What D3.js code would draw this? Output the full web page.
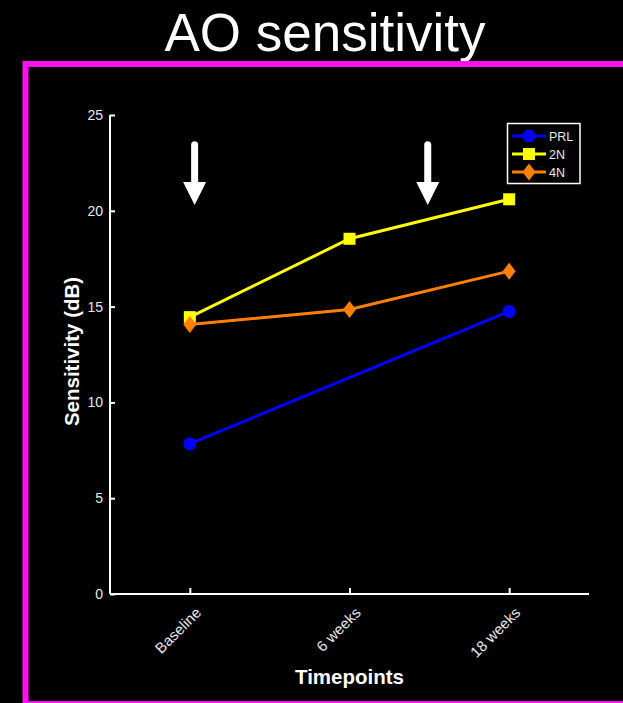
<!DOCTYPE html>
<html><head><meta charset="utf-8">
<script src="https://cdn.jsdelivr.net/npm/d3@7"></script>
<style>html,body{margin:0;padding:0;background:#000;}svg{display:block;}</style>
</head><body>
<svg id="chart" width="623" height="703"></svg>
<script>
// ---- data ----
const categories = ["Baseline", "6 weeks", "18 weeks"];
const prlValues = [7.84, null, 14.75];
const n2Values = [14.45, 18.54, 20.6];
const n4Values = [14.07, 14.85, 16.85];
const seriesNames = ["PRL", "2N", "4N"];
const seriesColors = ["#0000ff", "#ffff00", "#ff8000"];
const yTicks = [0, 5, 10, 15, 20, 25];
const arrowX = [1.03, 2.49];      // in category-index units
const arrowTop = 23.45, arrowHeadTop = 21.5, arrowTip = 20.3; // in dB units

const svg = d3.select("#chart");
svg.append("rect").attr("width", 623).attr("height", 703).attr("fill", "#000");
// title
svg.append("text").attr("x", 325).attr("y", 51).attr("text-anchor", "middle")
  .attr("font-family", "Liberation Sans, Arial, sans-serif").attr("font-size", 53)
  .attr("fill", "#fff").text("AO sensitivity");
// magenta frame
svg.append("rect").attr("x", 25.5).attr("y", 64).attr("width", 700).attr("height", 640)
  .attr("fill", "none").attr("stroke", "#ff10ef").attr("stroke-width", 6);

const x = d3.scaleLinear().domain([0.5, 3.5]).range([110, 589]);
const y = d3.scaleLinear().domain([0, 25]).range([594, 115]);

const font = "Liberation Sans, Arial, sans-serif";
const yAxis = svg.append("g").attr("transform", `translate(${x(0.5)},0)`)
  .call(d3.axisLeft(y).tickValues(yTicks).tickSize(-5).tickPadding(7));
const xAxis = svg.append("g").attr("transform", `translate(0,${y(0)})`)
  .call(d3.axisBottom(x).tickValues([1, 2, 3]).tickFormat((d) => categories[d - 1]).tickSize(-6).tickPadding(10));
[yAxis, xAxis].forEach(g => {
  g.select(".domain").attr("stroke", "#fff").attr("stroke-width", 2);
  g.selectAll(".tick line").attr("stroke", "#fff").attr("stroke-width", 2);
  g.selectAll(".tick text").attr("fill", "#e8e8e8").attr("font-family", font).attr("font-size", 14);
});
xAxis.select(".domain").attr("d", `M${x(0.5)},0H${x(3.5)}`);
yAxis.select(".domain").attr("d", `M0,${y(25)}V${y(0)}`);
xAxis.selectAll(".tick text").attr("text-anchor", "end").attr("font-size", 15)
  .attr("transform", "translate(8,16) rotate(-45)").attr("dy", "0.35em").attr("y", 0).attr("x", 0);

// axis titles
svg.append("text").attr("transform", `translate(79,${(y(0) + y(25)) / 2 - 3}) rotate(-90)`)
  .attr("text-anchor", "middle").attr("font-family", font).attr("font-weight", "bold")
  .attr("font-size", 20.5).attr("fill", "#fff").text("Sensitivity (dB)");
svg.append("text").attr("x", x(2)).attr("y", 684).attr("text-anchor", "middle")
  .attr("font-family", font).attr("font-weight", "bold").attr("font-size", 20.5)
  .attr("fill", "#fff").text("Timepoints");

// arrows
arrowX.forEach(ax => {
  const cx = x(ax);
  svg.append("line").attr("x1", cx).attr("x2", cx).attr("y1", y(arrowTop)).attr("y2", y(arrowHeadTop) + 1)
    .attr("stroke", "#fff").attr("stroke-width", 7).attr("stroke-linecap", "round");
  svg.append("path").attr("d", `M${cx - 11.5},${y(arrowHeadTop)}L${cx + 11.5},${y(arrowHeadTop)}L${cx},${y(arrowTip)}Z`)
    .attr("fill", "#fff");
});

// series
const seriesValues = [prlValues, n2Values, n4Values];
const line = d3.line().x(d => x(d.i)).y(d => y(d.v));
function drawMarker(g, kind, cx, cy, color, s) {
  if (kind === 0) g.append("circle").attr("cx", cx).attr("cy", cy).attr("r", 6.5 * s).attr("fill", color);
  else if (kind === 1) g.append("rect").attr("x", cx - 6 * s).attr("y", cy - 6 * s).attr("width", 12 * s).attr("height", 12 * s).attr("fill", color);
  else g.append("path").attr("d", `M${cx},${cy - 8.5 * s}L${cx + 6.5 * s},${cy}L${cx},${cy + 8.5 * s}L${cx - 6.5 * s},${cy}Z`).attr("fill", color);
}
seriesValues.forEach((vals, k) => {
  const pts = vals.map((v, i) => ({ i: i + 1, v })).filter(d => d.v !== null);
  const g = svg.append("g");
  g.append("path").attr("d", line(pts)).attr("fill", "none").attr("stroke", seriesColors[k]).attr("stroke-width", 3);
  pts.forEach(d => drawMarker(g, k, x(d.i), y(d.v), seriesColors[k], 1));
});

// legend
const lg = svg.append("g");
lg.append("rect").attr("x", 507.5).attr("y", 123.5).attr("width", 72.5).attr("height", 60)
  .attr("fill", "#000").attr("stroke", "#fff").attr("stroke-width", 1.5);
seriesNames.forEach((name, k) => {
  const ly = 136 + k * 18;
  lg.append("line").attr("x1", 512).attr("x2", 546).attr("y1", ly).attr("y2", ly)
    .attr("stroke", seriesColors[k]).attr("stroke-width", 3);
  drawMarker(lg, k, 529, ly, seriesColors[k], 1);
  lg.append("text").attr("x", 549).attr("y", ly + 4.5).attr("font-family", font).attr("font-size", 12.5)
    .attr("fill", "#e8e8e8").text(name);
});
</script>
</body></html>
